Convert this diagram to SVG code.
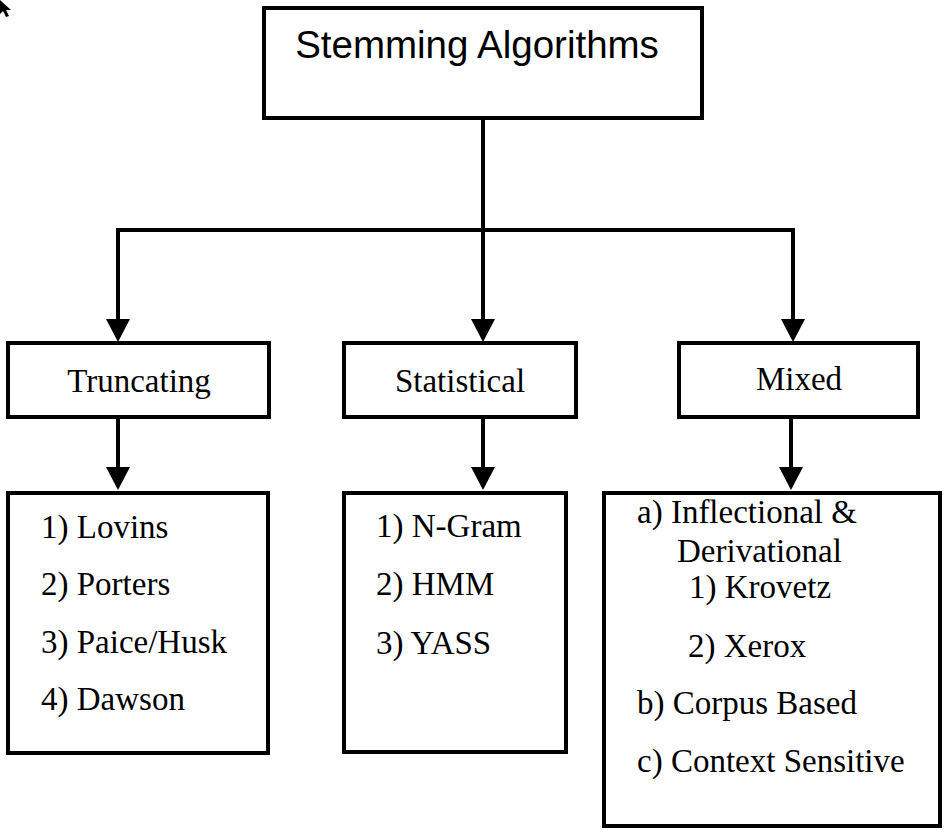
<svg xmlns="http://www.w3.org/2000/svg" width="945" height="832" viewBox="0 0 945 832">
<style>
.box{fill:#fff;stroke:#000;stroke-width:4}
.ln{fill:none;stroke:#000;stroke-width:4}
.arr{marker-end:url(#ah)}
.t{font-family:"Liberation Serif","Times New Roman",serif;font-size:33px;fill:#000}
.h{font-family:"Liberation Sans",Arial,sans-serif;font-size:38.5px;fill:#000}
</style>
<defs>
<marker id="ah" viewBox="0 0 23 24" refX="11" refY="12" markerWidth="23" markerHeight="24" markerUnits="userSpaceOnUse" orient="auto">
<path d="M0,0 L23,12 L0,24 z" fill="#000"/>
</marker>
</defs>
<rect width="945" height="832" fill="#fff"/>
<polygon points="0,0 11,10 6,10 9,16 6,17 3,11 0,14" fill="#000"/>
<g id="connectors">
<path class="ln" d="M483,118 V230"/>
<path class="ln" d="M116,230 H795"/>
<path class="ln arr" d="M118,228 V330"/>
<path class="ln arr" d="M483,228 V330"/>
<path class="ln arr" d="M793,228 V330"/>
<path class="ln arr" d="M118,417 V478"/>
<path class="ln arr" d="M483,417 V478"/>
<path class="ln arr" d="M791,417 V478"/>
</g>
<g id="root">
<rect class="box" x="264" y="8" width="438" height="110"/>
<text class="h" x="477" y="58" text-anchor="middle">Stemming Algorithms</text>
</g>
<g id="truncating">
<rect class="box" x="8" y="343" width="261" height="74"/>
<text class="t" x="139" y="392" text-anchor="middle">Truncating</text>
</g>
<g id="statistical">
<rect class="box" x="344" y="343" width="232" height="74"/>
<text class="t" x="460" y="392" text-anchor="middle">Statistical</text>
</g>
<g id="mixed">
<rect class="box" x="679" y="343" width="239" height="74"/>
<text class="t" x="799" y="390" text-anchor="middle">Mixed</text>
</g>
<g id="truncating-list">
<rect class="box" x="8" y="493" width="260" height="260"/>
<text class="t" x="41" y="538">1) Lovins</text>
<text class="t" x="41" y="595">2) Porters</text>
<text class="t" x="41" y="653">3) Paice/Husk</text>
<text class="t" x="41" y="710">4) Dawson</text>
</g>
<g id="statistical-list">
<rect class="box" x="344" y="493" width="222" height="259"/>
<text class="t" x="376" y="537">1) N-Gram</text>
<text class="t" x="376" y="595">2) HMM</text>
<text class="t" x="376" y="654">3) YASS</text>
</g>
<g id="mixed-list">
<rect class="box" x="604" y="493" width="336" height="333"/>
<text class="t" x="637" y="523">a) Inflectional &amp;</text>
<text class="t" x="677" y="562">Derivational</text>
<text class="t" x="689" y="598">1) Krovetz</text>
<text class="t" x="688" y="657">2) Xerox</text>
<text class="t" x="637" y="714">b) Corpus Based</text>
<text class="t" x="637" y="772">c) Context Sensitive</text>
</g>
</svg>
